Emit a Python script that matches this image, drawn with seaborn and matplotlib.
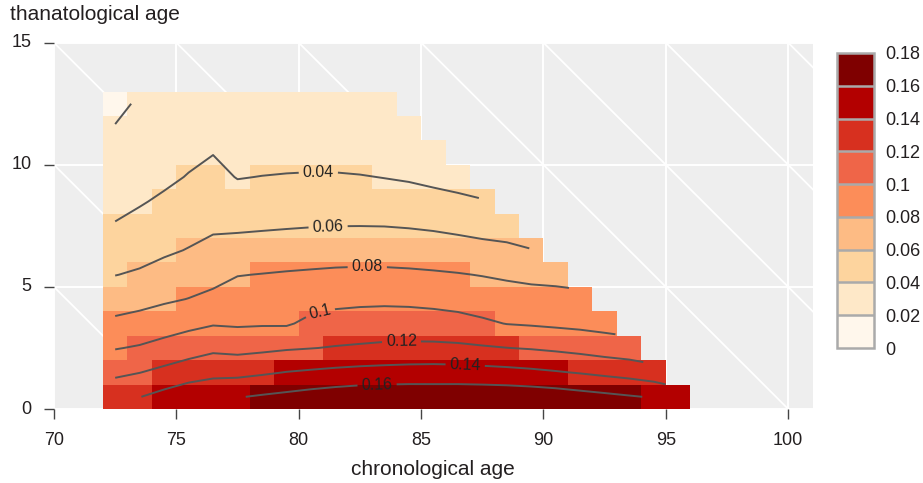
import numpy as np
import pandas as pd
import matplotlib
matplotlib.use("Agg")
import matplotlib.pyplot as plt
import seaborn as sns
from matplotlib.colors import ListedColormap, BoundaryNorm

# ---------------- data ----------------
chrono_ages = list(range(70, 101))      # tile columns (each tile spans one year)
thanato_ages = list(range(0, 15))       # tile rows
first_age = 72                          # first chronological age with data

# values for each thanatological age row, chronological ages 72, 73, ...
thanato_0 = [0.134, 0.1395, 0.1465, 0.153, 0.1547, 0.159, 0.162, 0.1647, 0.1678, 0.1704, 0.1725, 0.1732,
             0.1733, 0.1728, 0.1733, 0.1733, 0.1729, 0.1718, 0.17, 0.1671, 0.1644, 0.1615, 0.1587, 0.152]
thanato_1 = [0.116, 0.1196, 0.1248, 0.1306, 0.1351, 0.1347, 0.1374, 0.1405, 0.1425, 0.1444, 0.1459, 0.1468,
             0.1477, 0.1481, 0.1477, 0.1467, 0.1455, 0.1437, 0.1414, 0.1388, 0.1357, 0.1328, 0.1285]
thanato_2 = [0.099, 0.1018, 0.1066, 0.1112, 0.1159, 0.1143, 0.116, 0.1181, 0.1195, 0.1211, 0.1223, 0.1236,
             0.1241, 0.1242, 0.1235, 0.1219, 0.1202, 0.1187, 0.1165, 0.1139, 0.1108, 0.1084]
thanato_3 = [0.084, 0.0869, 0.0909, 0.0951, 0.0986, 0.0976, 0.0982, 0.098, 0.1043, 0.1073, 0.1085, 0.1091,
             0.109, 0.1081, 0.1064, 0.103, 0.0995, 0.0982, 0.0967, 0.0953, 0.0934]
thanato_4 = [0.071, 0.0738, 0.0773, 0.0804, 0.0845, 0.0886, 0.0894, 0.0906, 0.0927, 0.0949, 0.0959, 0.0963,
             0.0958, 0.0946, 0.0929, 0.0906, 0.0886, 0.0873, 0.0858, 0.0844]
thanato_5 = [0.0596, 0.0622, 0.0666, 0.0705, 0.0739, 0.0794, 0.0805, 0.0816, 0.0825, 0.0834, 0.0839, 0.0838,
             0.0832, 0.0822, 0.081, 0.0793, 0.0772, 0.0752, 0.0748]
thanato_6 = [0.051, 0.0537, 0.0573, 0.0608, 0.0649, 0.0676, 0.0688, 0.0701, 0.071, 0.0717, 0.0719, 0.0716,
             0.0708, 0.0697, 0.0679, 0.0658, 0.0634, 0.0606]
thanato_7 = [0.041, 0.046, 0.0502, 0.054, 0.0573, 0.0569, 0.0577, 0.0585, 0.0593, 0.0598, 0.0599, 0.0597,
             0.0588, 0.0574, 0.0554, 0.0532, 0.053]
thanato_8 = [0.0355, 0.0383, 0.0431, 0.0475, 0.0513, 0.048, 0.0491, 0.0499, 0.0505, 0.0508, 0.0505, 0.0496,
             0.0483, 0.0463, 0.044, 0.0412]
thanato_9 = [0.031, 0.034, 0.036, 0.041, 0.0454, 0.0392, 0.0404, 0.0413, 0.0418, 0.0417, 0.041, 0.0395,
             0.0379, 0.0352, 0.0326]
thanato_10 = [0.026, 0.030, 0.032, 0.0355, 0.0394, 0.035, 0.0325, 0.0325, 0.0328, 0.0327, 0.031, 0.031,
              0.030, 0.029]
thanato_11 = [0.0203, 0.026, 0.028, 0.031, 0.034, 0.031, 0.029, 0.029, 0.029, 0.029, 0.028, 0.027, 0.026]
thanato_12 = [0.0185, 0.0208, 0.025, 0.027, 0.029, 0.027, 0.026, 0.026, 0.026, 0.026, 0.025, 0.024]

rows = [thanato_0, thanato_1, thanato_2, thanato_3, thanato_4, thanato_5, thanato_6,
        thanato_7, thanato_8, thanato_9, thanato_10, thanato_11, thanato_12]

levels = [0.0, 0.02, 0.04, 0.06, 0.08, 0.10, 0.12, 0.14, 0.16, 0.18]
level_labels = ["0", "0.02", "0.04", "0.06", "0.08", "0.1", "0.12", "0.14", "0.16", "0.18"]
contour_levels = [0.02, 0.04, 0.06, 0.08, 0.10, 0.12, 0.14, 0.16]
# approximate label anchor points (chronological age, thanatological age)
label_points = [(80.8, 9.68), (81.2, 7.46), (82.8, 5.82), (80.9, 3.84),
                (84.2, 2.69), (86.8, 1.78), (83.2, 0.99)]
x_ticks = [70, 75, 80, 85, 90, 95, 100]
y_ticks = [0, 5, 10, 15]
palette = ['#fff7ec', '#fee8c8', '#fdd49e', '#fdbb84', '#fc8d59',
           '#ef6548', '#d7301f', '#b30000', '#7f0000']

# ---------------- build table ----------------
Z = np.full((len(thanato_ages), len(chrono_ages)), np.nan)
start = chrono_ages.index(first_age)
for k, r in enumerate(rows):
    Z[k, start:start + len(r)] = r
df = pd.DataFrame(Z, index=thanato_ages, columns=chrono_ages)

# ---------------- style ----------------
sns.set_style("ticks")
plt.rcParams['font.family'] = ['Liberation Sans', 'DejaVu Sans']
txt = '#231f20'

fig = plt.figure(figsize=(9.23, 4.83), dpi=100)
ax = fig.add_axes([0.0585, 0.1532, 0.8220, 0.7584])
cax = fig.add_axes([0.9068, 0.2795, 0.0401, 0.6108])

cmap = ListedColormap(palette)
norm = BoundaryNorm(levels, cmap.N)

sns.heatmap(df, ax=ax, cmap=cmap, norm=norm, cbar_ax=cax, mask=df.isna(),
            cbar_kws=dict(ticks=levels, drawedges=True), linewidths=0)

ax.set_facecolor('#EEEEEE')
ax.set_xlim(0, len(chrono_ages))
ax.set_ylim(0, len(thanato_ages))

# grid + diagonal reference lines (drawn below the tiles)
for xv in x_ticks:
    ax.axvline(xv - chrono_ages[0], color='white', lw=1.4, zorder=0.5)
for yv in y_ticks:
    ax.axhline(yv, color='white', lw=1.4, zorder=0.5)
for c in range(75, 120, 5):
    ax.plot([c - 15 - chrono_ages[0], c - chrono_ages[0]], [15, 0],
            color='white', lw=1.3, zorder=0.5)

# contours at cell centres
X, Y = np.meshgrid(np.arange(len(chrono_ages)) + 0.5, np.arange(len(thanato_ages)) + 0.5)
cs = ax.contour(X, Y, np.ma.masked_invalid(Z), levels=contour_levels,
                colors='#555555', linewidths=1.4, zorder=3)
cs.clabel(levels=contour_levels, fmt=lambda v: f"{v:g}", fontsize=11.5,
          colors='#222222', inline=True, inline_spacing=4,
          manual=[(a - chrono_ages[0], t) for a, t in label_points])

# axes ticks and labels
ax.set_xticks([v - chrono_ages[0] for v in x_ticks])
ax.set_xticklabels([str(v) for v in x_ticks], rotation=0)
ax.set_yticks(y_ticks)
ax.set_yticklabels([str(v) for v in y_ticks], rotation=0)
ax.tick_params(axis='both', length=7.2, width=1.0, color='#444444',
               labelsize=13, labelcolor=txt)
ax.tick_params(axis='x', pad=9)
ax.tick_params(axis='y', pad=9)
for s in ax.spines.values():
    s.set_visible(False)
ax.set_xlabel('chronological age', fontsize=15, color=txt, labelpad=8)
ax.set_ylabel('')
fig.text(10 / 923, 1 - 20 / 483, 'thanatological age', ha='left', va='baseline',
         fontsize=15, color=txt)

# colour bar
cb = ax.collections[0].colorbar
cb.set_ticks(levels)
cb.set_ticklabels(level_labels)
cb.outline.set_visible(True)
cb.outline.set_edgecolor('#aaaaaa')
cb.outline.set_linewidth(1.8)
cb.dividers.set_color('#aaaaaa')
cb.dividers.set_linewidth(1.8)
cb.ax.tick_params(length=0, pad=8, labelsize=13, labelcolor=txt)

fig.savefig('out.png', dpi=100)
